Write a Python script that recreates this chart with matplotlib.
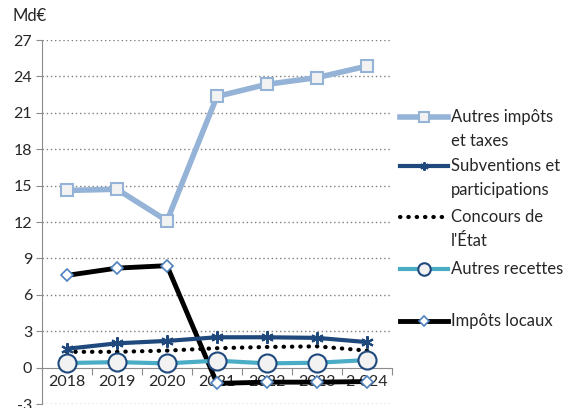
import matplotlib
matplotlib.use("Agg")
import matplotlib.pyplot as plt
from matplotlib.lines import Line2D

plt.rcParams['font.family'] = ['Lato', 'DejaVu Sans']

years = ["2018", "2019", "2020", "2021", "2022", "2023", "2 024"]
autres_impots = [14.6, 14.7, 12.1, 22.35, 23.35, 23.9, 24.85]
subventions = [1.55, 2.0, 2.2, 2.5, 2.5, 2.45, 2.1]
concours = [1.3, 1.3, 1.4, 1.6, 1.7, 1.75, 1.4]
autres_recettes = [0.38, 0.45, 0.35, 0.57, 0.35, 0.4, 0.62]
impots_locaux = [7.6, 8.2, 8.4, -1.3, -1.2, -1.2, -1.15]

yticks = [-3, 0, 3, 6, 9, 12, 15, 18, 21, 24, 27]

W, H = 568, 408
fig = plt.figure(figsize=(W / 100, H / 100), dpi=100)
ax = fig.add_axes([42 / W, 4 / H, (392 - 42) / W, (404 - 40) / H])

x = list(range(len(years)))

LB = "#95B3D7"
DB = "#1F497D"
TEAL = "#4BACC6"

styles = {
    "autres": dict(color=LB, lw=4, marker='s', ms=8, mfc="#F2F2F2", mec=LB, mew=1.5),
    "subv": dict(color=DB, lw=3, marker=(6, 2, 0), ms=9, mec=DB, mew=1.5),
    "conc": dict(color="black", lw=3, ls=(0, (0.1, 1.9)), dash_capstyle='round'),
    "rec": dict(color=TEAL, lw=3, marker='o', ms=13, mfc="#F2F2F2", mec=DB, mew=1.5),
    "loc": dict(color="black", lw=3.5, marker='D', ms=6, mfc="white", mec="#4F81BD", mew=1.2),
}
legend_ms = {"autres": 6.5, "subv": 6, "rec": 9, "loc": 5}

ax.plot(x, impots_locaux, zorder=3, **styles["loc"])
ax.plot(x, concours, zorder=3, **styles["conc"])
ax.plot(x, subventions, zorder=4, **styles["subv"])
ax.plot(x, autres_recettes, zorder=5, **styles["rec"])
ax.plot(x, autres_impots, zorder=6, **styles["autres"])

ax.set_xlim(-0.5, len(years) - 0.5)
ax.set_ylim(-3, 27)
ax.set_yticks(yticks)
ax.set_yticklabels([str(v) for v in yticks])
for v in yticks:
    if v != 0:
        ax.axhline(v, color="#7F7F7F", lw=1, ls=(0, (1, 2)), zorder=1)

for s in ['top', 'right']:
    ax.spines[s].set_visible(False)
ax.spines['left'].set_color("#8C8C8C")
ax.spines['bottom'].set_color("#8C8C8C")
ax.spines['bottom'].set_position(('data', 0))
ax.spines['bottom'].set_zorder(2)

ax.set_xticks([i - 0.5 for i in range(len(years) + 1)])
ax.set_xticklabels([])
ax.set_xticks(x, minor=True)
ax.set_xticklabels(years, minor=True)
ax.tick_params(axis='x', which='major', direction='out', length=5, color="#8C8C8C")
ax.tick_params(axis='x', which='minor', length=0, pad=5, labelsize=11.5, labelcolor="#262626")
ax.tick_params(axis='y', direction='out', length=4, color="#8C8C8C", labelsize=11.5,
               labelcolor="#262626", pad=3)

fig.text(12 / W, 1 - 16 / H, "Md€", fontsize=12, color="#262626", va='center', ha='left')

# Legend drawn manually
entries = [
    ("autres", ["Autres impôts", "et taxes"], 117),
    ("subv", ["Subventions et", "participations"], 166),
    ("conc", ["Concours de", "l'État"], 217),
    ("rec", ["Autres recettes"], 269),
    ("loc", ["Impôts locaux"], 321),
]
for key, lines, yp in entries:
    st = dict(styles[key])
    yf = 1 - yp / H
    xs = [400 / W, 448 / W]
    ln = Line2D(xs, [yf, yf], transform=fig.transFigure,
                **{k: v for k, v in st.items() if k not in ('marker', 'ms', 'mfc', 'mec', 'mew')})
    fig.add_artist(ln)
    if 'marker' in st:
        mk = Line2D([424 / W], [yf], transform=fig.transFigure, ls='none', marker=st['marker'],
                    ms=legend_ms[key], mfc=st.get('mfc', st['color']),
                    mec=st['mec'], mew=st['mew'])
        fig.add_artist(mk)
    for i, t in enumerate(lines):
        fig.text(451 / W, 1 - (yp + 24 * i) / H, t, fontsize=12, color="#262626",
                 va='center', ha='left')

fig.savefig("out.png", dpi=100)
